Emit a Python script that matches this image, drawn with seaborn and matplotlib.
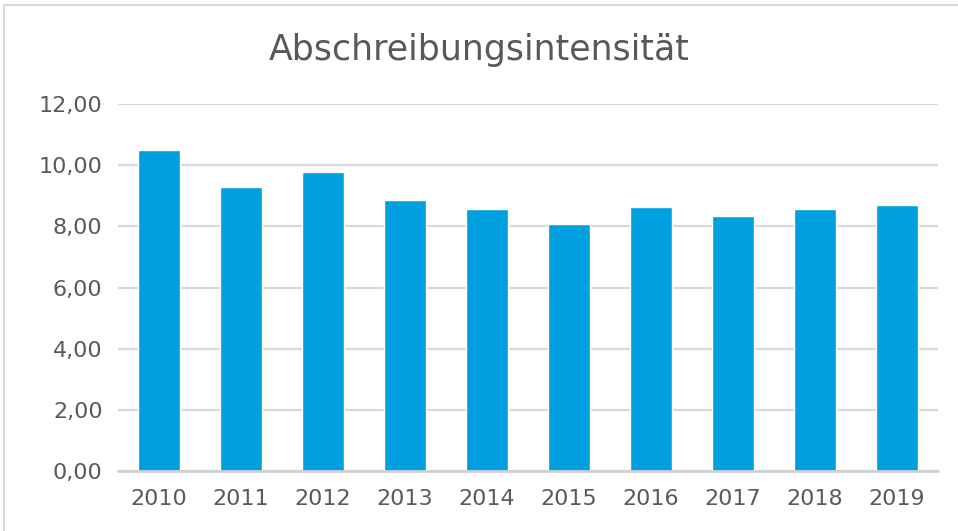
import matplotlib
matplotlib.use("Agg")
import matplotlib.pyplot as plt
import pandas as pd
import seaborn as sns

# Data
years = ["2010", "2011", "2012", "2013", "2014", "2015", "2016", "2017", "2018", "2019"]
values = [10.50, 9.29, 9.79, 8.87, 8.58, 8.09, 8.62, 8.33, 8.57, 8.70]
yticks = [0, 2, 4, 6, 8, 10, 12]

df = pd.DataFrame({"year": years, "value": values})

sns.set_theme(style="white")
plt.rcParams["font.family"] = ["DejaVu Sans"]

text_color = "#595959"
grid_color = "#d9d9d9"
bar_color = "#00a0e0"

fig = plt.figure(figsize=(9.58, 5.31), dpi=100)
ax = fig.add_axes([0.123, 0.113, 0.856, 0.691])

sns.barplot(data=df, x="year", y="value", color=bar_color, width=0.51,
            saturation=1, ax=ax, zorder=3)

ax.set_ylim(0, 12)
ax.set_xlim(-0.5, len(years) - 0.5)
ax.set_yticks(yticks)
ax.set_yticklabels([f"{t:.2f}".replace(".", ",") for t in yticks])
ax.yaxis.grid(True, color=grid_color, linewidth=1.6)
ax.axhline(0, color="#d0d0d0", linewidth=2, zorder=4, clip_on=False)
ax.set_axisbelow(True)
for s in ax.spines.values():
    s.set_visible(False)
ax.tick_params(axis="both", length=0, labelsize=16, colors=text_color)
ax.tick_params(axis="y", pad=11)
ax.tick_params(axis="x", pad=13)
ax.set_xlabel("")
ax.set_ylabel("")

fig.text(0.5, 0.905, "Abschreibungsintensität", ha="center", va="center",
         fontsize=25, color=text_color)

# light outer frame
fig.patches.append(plt.Rectangle((0.004, -0.01), 1.1, 1.0, transform=fig.transFigure,
                                 fill=False, edgecolor="#d9d9d9", linewidth=1.5))

fig.savefig("out.png", dpi=100)
